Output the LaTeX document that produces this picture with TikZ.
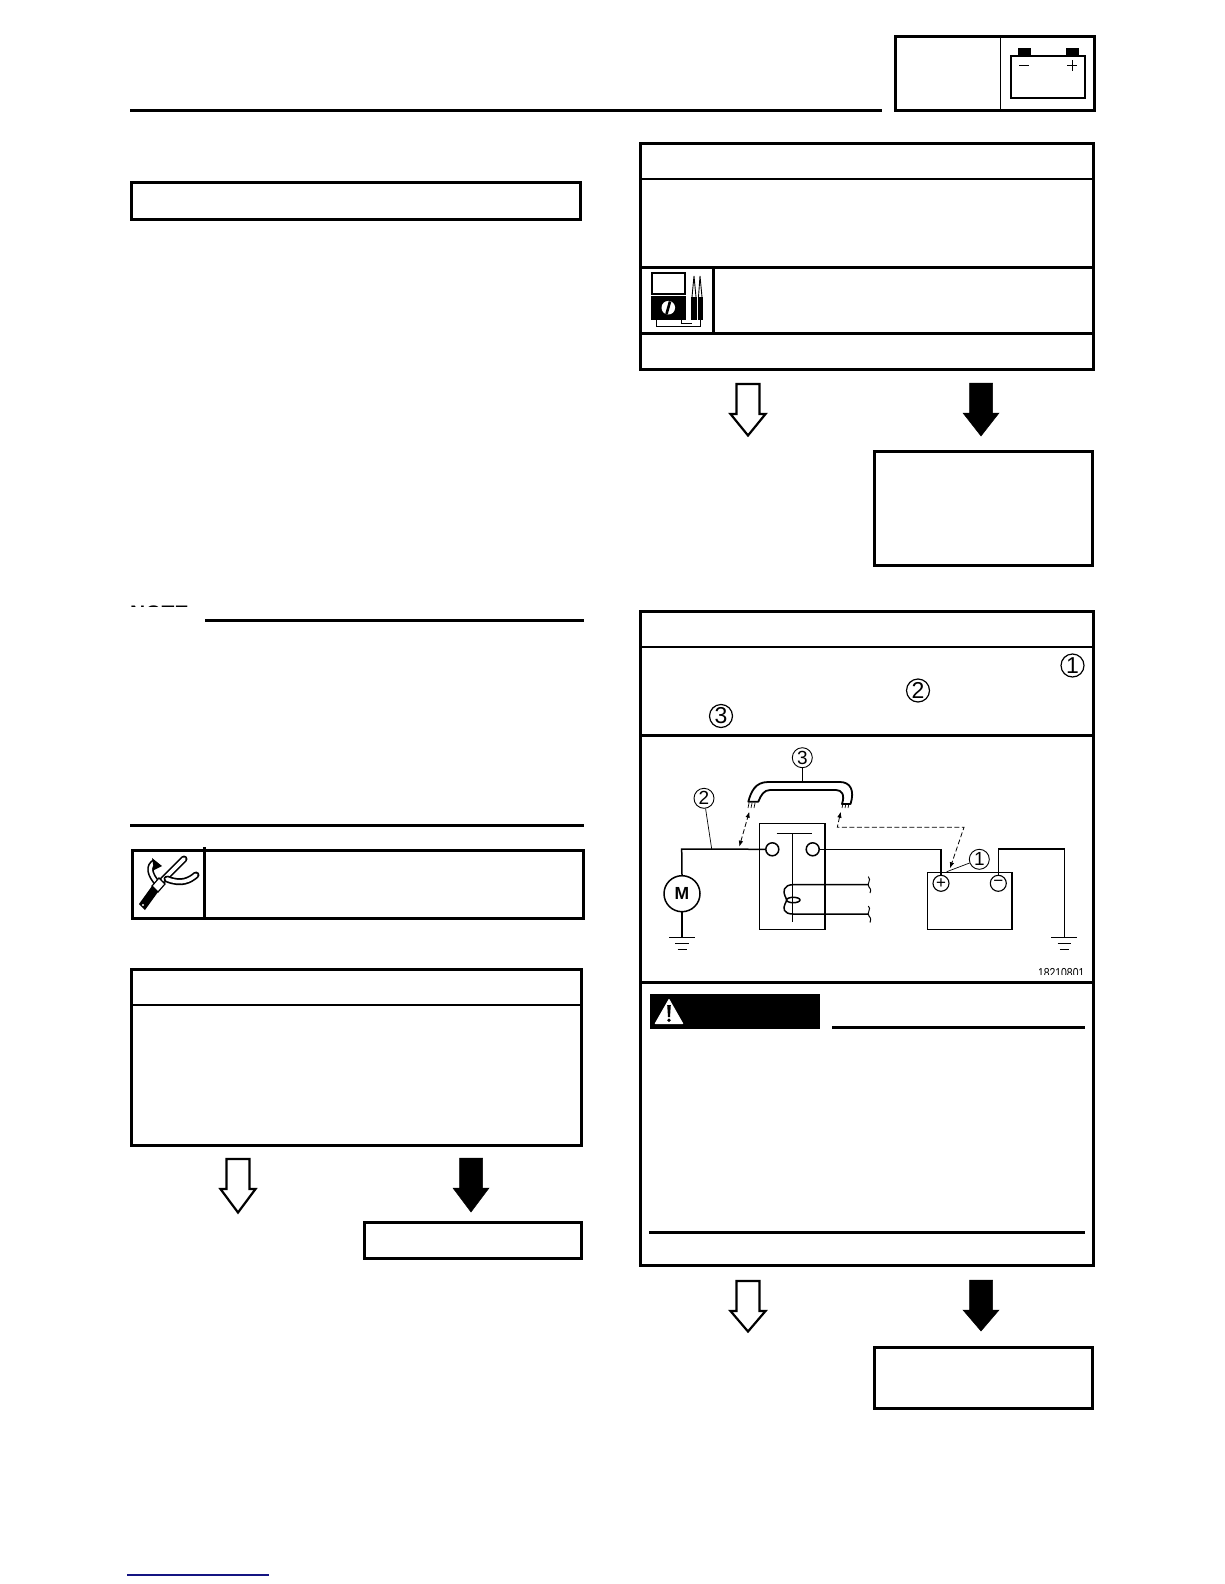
\documentclass[tikz,border=0pt]{standalone}
\usepackage{fontspec}
\setmainfont{Liberation Sans}
\usetikzlibrary{arrows.meta}
\tikzset{
  thickbox/.style={draw=black,line width=3pt,fill=white},
  thickrule/.style={draw=black,line width=3pt},
  thinrule/.style={draw=black,line width=1.2pt},
  wire/.style={draw=black,line width=1.5pt},
  leader/.style={draw=black,line width=0.7pt},
  dashwire/.style={draw=black,line width=0.8pt,dash pattern=on 5pt off 2.5pt,{Latex[length=6pt,width=4.5pt]}-{Latex[length=6pt,width=4.5pt]}},
  openarrow/.style={draw=black,line width=2.2pt,fill=white,miter limit=10},
  solidarrow/.style={fill=black,draw=black,line width=0.5pt},
  bignum/.style={circle,draw=black,line width=1.2pt,minimum size=23pt,inner sep=0pt,font=\fontsize{23}{23}\selectfont},
  smallnum/.style={circle,draw=black,line width=0.9pt,minimum size=20pt,inner sep=0pt,font=\fontsize{19}{19}\selectfont},
  terminal/.style={circle,draw=black,line width=1.5pt,fill=white,minimum size=13pt,inner sep=0pt},
  polarity/.style={circle,draw=black,line width=1.1pt,fill=white,minimum size=16pt,inner sep=0pt,font=\fontsize{17}{17}\selectfont},
  toolouter/.style={draw=black,line width=7pt,line cap=round},
  toolinner/.style={draw=white,line width=3.6pt,line cap=round}
}
\newcommand{\openarr}[3]{\draw[openarrow] (#1-11.5,#2) -- (#1+11.5,#2) -- (#1+11.5,#2+30) -- (#1+17.5,#2+30) -- (#1,#3-1.5) -- (#1-17.5,#2+30) -- (#1-11.5,#2+30) -- cycle;}
\newcommand{\solidarr}[3]{\draw[solidarrow] (#1-11.5,#2) -- (#1+11.5,#2) -- (#1+11.5,#2+30) -- (#1+18,#2+30) -- (#1,#3) -- (#1-18,#2+30) -- (#1-11.5,#2+30) -- cycle;}
\newcommand{\groundsym}[2]{\draw[wire] (#1-13,#2) -- (#1+13,#2) (#1-6.7,#2+6) -- (#1+6.7,#2+6) (#1-4.5,#2+12) -- (#1+4.5,#2+12);}
\begin{document}
\begin{tikzpicture}[x=1pt,y=-1pt]
\useasboundingbox (0,0) rectangle (1224,1584);
\fill[white] (0,0) rectangle (1224,1584);

% header
\draw[thickrule] (130,111) -- (882,111);
\draw[thickbox] (895,37) rectangle (1094,111);
\draw[draw=black,line width=0.9pt] (1000,37) -- (1000,111);
\fill (1018,48) rectangle (1031,56);
\fill (1066,48) rectangle (1079,56);
\draw[line width=2.2pt] (1011,56) rectangle (1085,98);
\draw[line width=1pt] (1019,66) -- (1029,66);
\draw[line width=1pt] (1067,66) -- (1077,66) (1072,60.5) -- (1072,71.5);

% left column
\draw[thickbox] (131,182) rectangle (580,219);

\begin{scope}
  \clip (125,598) rectangle (200,606.3);
  \node[anchor=base west,inner sep=0pt,font=\bfseries\fontsize{21}{21}\selectfont] (notelabel) at (130,620) {NOTE};
\end{scope}
\draw[thickrule] (205,620) -- (584,620);
\draw[thickrule] (130,825) -- (584,825);

\draw[thickbox] (132,850) rectangle (583.5,918);
\draw[thickrule] (204,847) -- (204,918);
% tool icon
\draw[toolouter] (163,880) -- (184,859);
\draw[toolinner] (163,880) -- (184,859);
\draw[toolouter] (167,879) .. controls (182,885) and (190,880) .. (196,875);
\draw[toolinner] (167,879) .. controls (182,885) and (190,880) .. (196,875);
\draw[draw=black,line width=6.5pt] (158,884) .. controls (149,874) and (148,866) .. (155,862);
\draw[draw=white,line width=3.2pt] (158,884) .. controls (149,874) and (148,866) .. (155,862);
\fill (152,858) -- (162,866) -- (154,870) -- cycle;
\draw[line width=1.2pt,fill=white] (159,878) -- (165,884) -- (158,892) -- (152,886) -- cycle;
\fill (152,886) -- (158,892) -- (145,910) -- (139,904) -- cycle;
\fill[white] (143,905) circle (1.2pt);

\draw[thickbox] (131,969) rectangle (581.5,1145);
\draw[thinrule] (131,1005) -- (581.5,1005);
\openarr{238}{1159}{1214}
\solidarr{471}{1158}{1212}
\draw[thickbox] (364,1222) rectangle (581.5,1258);

% right column, upper
\draw[thickbox] (640.5,143) rectangle (1093,369);
\draw[thinrule] (640.5,179) -- (1093,179);
\draw[thickrule] (640.5,267) -- (1093,267);
\draw[thickrule] (640.5,333) -- (1093,333);
\draw[thickrule] (713,267) -- (713,333);
% meter icon
\draw[line width=2.2pt] (652,273) rectangle (685,294);
\fill (651,296) rectangle (686,320);
\fill[white] (668.3,307.7) circle (6.8pt);
\draw[line width=2.6pt] (670,301.5) -- (666.5,314);
\fill (691,297) rectangle (696.7,319.5);
\fill (697.7,297) rectangle (702.7,319.5);
\draw[line width=0.9pt] (692,297) -- (694,276) -- (696,297) (698.5,297) -- (700,276) -- (702,297);
\draw[line width=0.9pt] (656,320) -- (656,326) -- (700,326) -- (700,319);
\draw[line width=0.9pt] (681.5,320) -- (681.5,323) -- (692,323);
\openarr{748}{384}{437}
\solidarr{981}{383}{436}
\draw[thickbox] (874,451) rectangle (1092.5,565);

% right column, lower
\draw[thickbox] (640.5,611) rectangle (1093,1265);
\draw[thinrule] (640.5,647) -- (1093,647);
\draw[thickrule] (640.5,735) -- (1093,735);
\draw[thickrule] (640.5,982) -- (1093,982);
\node[bignum] (ref1) at (1072.5,665.5) {1};
\node[bignum] (ref2) at (918,690.5) {2};
\node[bignum] (ref3) at (721,716) {3};

% circuit: wires first
\coordinate (lead2) at (711.7,849);
\coordinate (leftjoin) at (681.7,849);
\node[circle,draw=black,line width=1.5pt,minimum size=36pt,inner sep=0pt,font=\bfseries\fontsize{17.5}{17.5}\selectfont] (motor) at (682,893.7) {M};
\draw[wire] (759.3,823.3) rectangle (825,929.3);
\node[terminal] (termL) at (772.3,849.3) {};
\node[terminal] (termR) at (812.7,849.3) {};
\draw[wire] (motor.north) -- (leftjoin) -- (termL.west);
\coordinate (gndL) at (682,937.3);
\draw[wire] (motor.south) -- (gndL);
\groundsym{682}{937.3}
% relay
\draw[wire] (776.7,833.3) -- (811.7,833.3);
\draw[wire] (792.7,833.3) -- (792.7,921.7);
\coordinate (coilA) at (868.3,884.7);
\coordinate (coilB) at (868.3,914);
\draw[wire] (coilA) -- (793.3,884.7) .. controls (783,884.7) and (783,892) .. (785,896) .. controls (787,900) and (787,900) .. (785,904) .. controls (783,908) and (783,914) .. (793.3,914) -- (coilB);
\draw[wire] (793.3,900) ellipse (6.7pt and 2.7pt);
\draw[line width=1pt] (868.3,876.7) .. controls (872,880) and (866,884) .. (869,887) .. controls (872,890) and (870,892) .. (870,893);
\draw[line width=1pt] (868.3,906) .. controls (872,909) and (866,913) .. (869,916) .. controls (872,919) and (870,921) .. (870,922.5);
% battery
\draw[wire] (927.7,872.3) rectangle (1012,929.3);
\node[polarity] (plus) at (941,883.3) {+};
\node[polarity] (minus) at (998.3,883.3) {−};
\coordinate (wireR) at (941,849.3);
\draw[wire] (termR.east) -- (wireR) -- (plus.north);
\coordinate (wireM) at (998.3,849);
\coordinate (wireG) at (1064.3,849);
\coordinate (gndR) at (1064.3,937.3);
\draw[wire] (minus.north) -- (wireM) -- (wireG) -- (gndR);
\groundsym{1064.3}{937.3}
% jumper cable
\draw[fill=white,line width=1.8pt,line join=round] (748.3,801.7) .. controls (751,792) and (755,782) .. (768,782) -- (840,782) .. controls (850,782) and (855,790) .. (850.5,804) -- (842,804) .. controls (845,795) and (842,790) .. (836,790) -- (770,790) .. controls (764,790) and (761,795) .. (758.3,801.7) -- cycle;
\draw[line width=0.7pt] (749,803) -- (748,808) (752,803) -- (751,808) (755,803) -- (754,808);
\draw[line width=0.7pt] (843,803.5) -- (842,808) (846,803.5) -- (845,808) (849,803.5) -- (848,808);
% dashed links
\coordinate (jumpL) at (749.3,811.7);
\coordinate (jumpR) at (840.7,811.7);
\coordinate (wireTap) at (739.3,846.7);
\coordinate (dashA) at (837.3,827.3);
\coordinate (dashB) at (964,827.3);
\coordinate (plusTap) at (950,868.3);
\draw[dashwire] (wireTap) -- (jumpL);
\draw[dashwire] (jumpR) -- (dashA) -- (dashB) -- (plusTap);
% callouts
\node[smallnum] (call1) at (979.3,859.3) {1};
\node[smallnum] (call2) at (704,798.3) {2};
\node[smallnum] (call3) at (802.3,757.7) {3};
\coordinate (tip1) at (946.7,871.7);
\coordinate (tip3) at (802.3,781.7);
\draw[leader] (call1) -- (tip1);
\draw[leader] (call2) -- (lead2);
\draw[leader] (call3) -- (tip3);
\begin{scope}
  \clip (1030,960) rectangle (1090,974.3);
  \node[anchor=base east,inner sep=0pt,xscale=0.8,font=\fontsize{13}{13}\selectfont] (figno) at (1084.5,977) {18210801};
\end{scope}
% warning
\fill (650,994) rectangle (820,1029);
\fill[white,line join=round] (669,999.5) -- (682.7,1023.5) -- (655.3,1023.5) -- cycle;
\draw[white,line join=round,line width=1pt] (669,999.5) -- (682.7,1023.5) -- (655.3,1023.5) -- cycle;
\fill (667.2,1005) -- (670.8,1005) -- (670,1017) -- (668,1017) -- cycle;
\fill (669,1020.3) circle (1.9pt);
\draw[thickrule] (832,1027) -- (1085,1027);
\draw[thickrule] (649,1232) -- (1085,1232);
\openarr{748}{1281}{1333}
\solidarr{981}{1280}{1331}
\draw[thickbox] (874,1347) rectangle (1092.5,1408.5);
% footer
\draw[draw={rgb,255:red,20;green,20;blue,130},line width=1.4pt] (127,1575) -- (269,1575);
\end{tikzpicture}
\end{document}
